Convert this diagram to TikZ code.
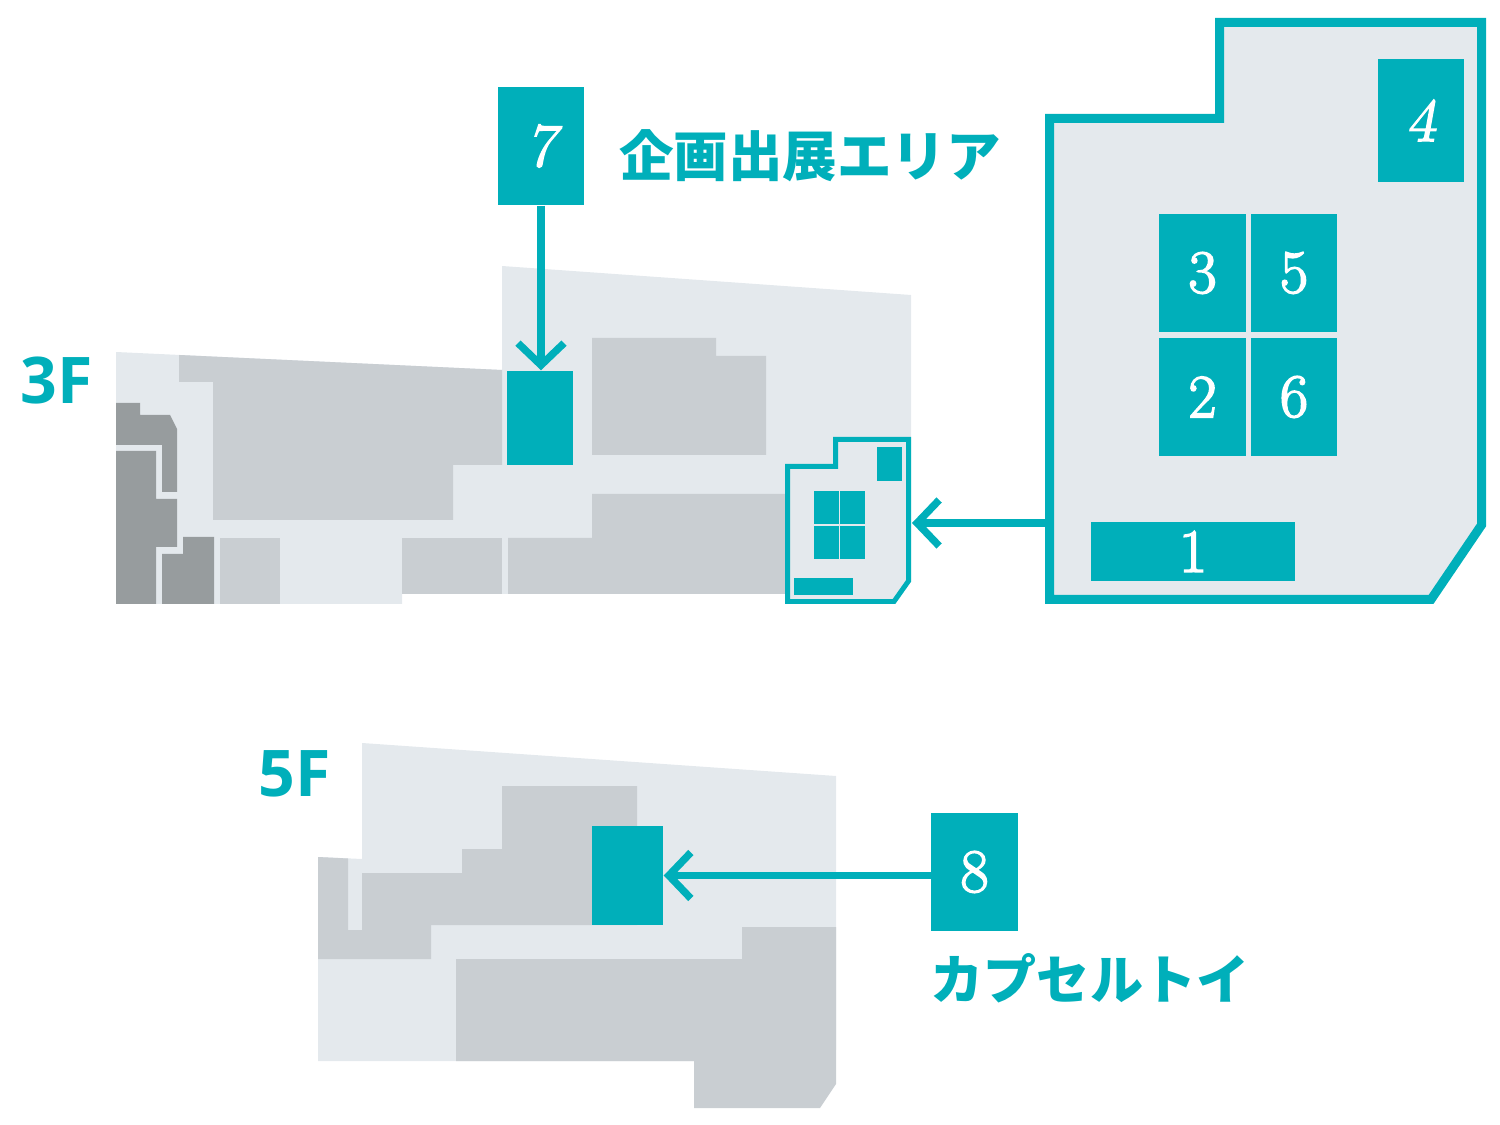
\documentclass[tikz,border=0pt]{standalone}
\usepackage{fontspec}
\usetikzlibrary{arrows.meta}
\newfontfamily\jpfont{Noto Sans CJK JP}
\newfontfamily\floorfont{Open Sans}
\newfontfamily\digitfont[FakeBold=2.5]{Latin Modern Roman}
\newfontfamily\slantfont[FakeBold=2.5,FakeSlant=.18]{Latin Modern Roman}
\definecolor{floorteal}{HTML}{00AFBA}
\definecolor{floorlight}{HTML}{E4E9ED}
\definecolor{floormid}{HTML}{C9CED2}
\definecolor{floordark}{HTML}{979C9E}
\tikzset{
	numbox/.style={fill=floorteal,text=white,inner sep=0,minimum width=.865cm,minimum height=1.18cm,font=\digitfont\fontsize{17.5}{17.5}\selectfont},
	areabox/.style={fill=floorteal,inner sep=0},
	pointer/.style={draw=floorteal,line width=2.1pt,-{Straight Barb[length=.22cm,width=.46cm]}},
	floorlabel/.style={text=floorteal,inner sep=0,font=\floorfont\bfseries\fontsize{18.3}{18.3}\selectfont},
	areatitle/.style={text=floorteal,inner sep=0,font=\jpfont\bfseries\fontsize{15.5}{15.5}\selectfont}
}
\begin{document}
\begin{tikzpicture}[x=.01cm,y=-.01cm]
		\useasboundingbox (0,0) rectangle (1500,1125);
		% 3F plan
			\fill[floorlight] (116,352) -- (502,370) -- (502,266) -- (911,295) -- (911,580) -- (894,601) -- (787,601) -- (787,594) -- (402,594) -- (402,604) -- (116,604) -- cycle;
			\fill[floormid] (179,355) -- (502,370) -- (502,465) -- (453,465) -- (453,520) -- (213,520) -- (213,382) -- (179,382) -- cycle;
			\fill[floormid] (592,338) -- (716,338) -- (716,356) -- (766,356) -- (766,455) -- (592,455) -- cycle;
			\fill[floormid] (592,494) -- (787,494) -- (787,594) -- (508,594) -- (508,538) -- (592,538) -- cycle;
			\fill[floormid] (402,538) rectangle (502,594);
			\fill[floormid] (220,538) rectangle (280,604);
			\fill[floordark] (116,403) -- (140,403) -- (140,415) -- (170,415) -- (177,429) -- (177,492) -- (162,492) -- (162,445) -- (116,445) -- cycle;
			\fill[floordark] (116,451) -- (156,451) -- (156,499) -- (177,499) -- (177,547) -- (156,547) -- (156,604) -- (116,604) -- cycle;
			\fill[floordark] (162,604) -- (162,554) -- (183,554) -- (183,537) -- (214,537) -- (214,604) -- cycle;
			\node[areabox,minimum width=.66cm,minimum height=.94cm] (target-3F) at (540,418) {};
			\node[floorlabel] (label-3F) at (57,381) {3F};
		% small frame in the 3F plan
			\draw[draw=floorteal,fill=floorlight,line width=1.42pt] (787.5,466.5) -- (835.5,466.5) -- (835.5,439.5) -- (908.5,439.5) -- (908.5,581) -- (894,601.5) -- (787.5,601.5) -- cycle;
			\fill[floorteal] (877,447) rectangle (902,481);
			\fill[floorteal] (794,578) rectangle (852.5,595);
			\foreach \x/\y in {814/491,840/491,814/526,840/526}{
				\fill[floorteal] (\x,\y) rectangle (\x+24.5,\y+33);
				}
		% enlarged frame
			\draw[draw=floorteal,fill=floorlight,line width=2.56pt] (1049.5,118.5) -- (1219.5,118.5) -- (1219.5,22.5) -- (1481.5,22.5) -- (1481.5,525) -- (1431,599.5) -- (1049.5,599.5) -- cycle;
			\coordinate (frame-w) at (1047,523);
			\coordinate (small-e) at (912,523);
		% numbered boxes
			\foreach \n/\x/\y in {3/1202.5/273,5/1294/273,2/1202.5/397,6/1294/397}{
				\node[numbox] (box-\n) at (\x,\y) {\n};
				}
			\node[numbox,minimum height=1.23cm] (box-4) at (1421,120.5) {\slantfont 4};
			\node[numbox,minimum width=2.04cm,minimum height=.59cm] (box-1) at (1193,551.5) {1};
			\node[numbox] (box-7) at (541,146) {\slantfont 7};
			\node[numbox] (box-8) at (974.5,872) {8};
		% titles
			\node[areatitle] (title-7) at (810,156) {企画出展エリア};
			\node[areatitle,font=\jpfont\bfseries\fontsize{15.1}{15.1}\selectfont] (title-8) at (1090,978) {カプセルトイ};
		% 5F plan
			\fill[floorlight] (362,743) -- (836,776) -- (836,1050) -- (694,1061) -- (318,1061) -- (318,857) -- (362,859) -- cycle;
			\fill[floormid] (318,857) -- (348,858.5) -- (348,930) -- (362,930) -- (362,873) -- (462,873) -- (462,849) -- (502,849) -- (502,786) -- (637,786) -- (637,925) -- (431,925) -- (431,959) -- (318,959) -- cycle;
			\fill[floormid] (456,959) -- (742,959) -- (742,927) -- (836,927) -- (836,1084) -- (820,1108) -- (694,1108) -- (694,1061) -- (456,1061) -- cycle;
			\node[areabox,minimum width=.71cm,minimum height=.99cm] (target-5F) at (627.5,875.5) {};
			\node[floorlabel] (label-5F) at (294.5,774) {5F};
		% pointers
			\draw[pointer] (box-7.south) -- (box-7.south |- target-3F.north);
			\draw[pointer] (frame-w) -- (small-e);
			\draw[pointer] (box-8.west |- target-5F.east) -- (target-5F.east);
	\end{tikzpicture}
\end{document}
